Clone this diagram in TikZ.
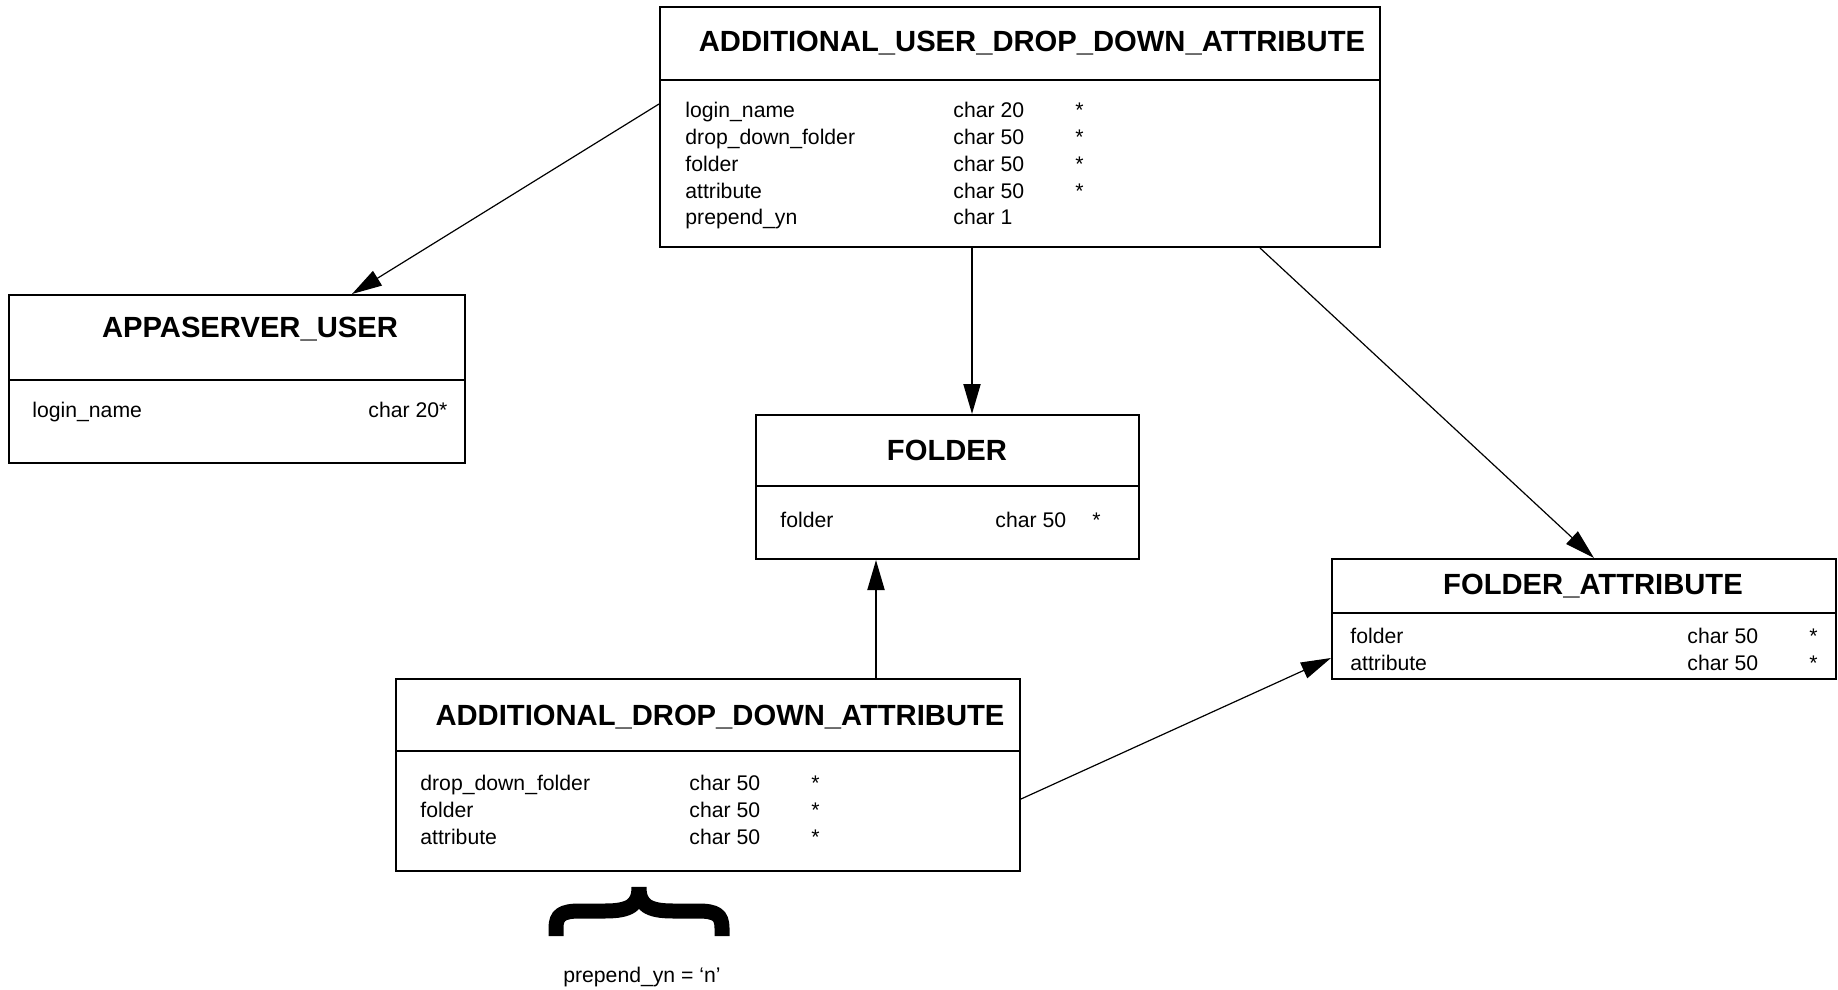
\documentclass[tikz,border=0pt]{standalone}
\usepackage{fontspec}
\setmainfont{Liberation Sans}
\usetikzlibrary{arrows.meta}

\tikzset{
  entity/.style={draw, line width=1pt, inner sep=0pt},
  ttl/.style={anchor=base, inner sep=0pt, font=\fontsize{14.6}{17}\selectfont\bfseries},
  fld/.style={anchor=base west, inner sep=0pt, font=\fontsize{10.6}{13}\selectfont},
  arr/.style={-{Triangle[length=15pt,width=8.5pt]}, line width=0.6pt},
}

\begin{document}
\begin{tikzpicture}[x=0.5pt,y=0.5pt,yscale=-1,xscale=1]
\useasboundingbox (0,0) rectangle (1838,990);
%Shape: Rectangle [ADDITIONAL_USER_DROP_DOWN_ATTRIBUTE]
\node [entity, minimum width=360pt, minimum height=120pt] (audda) at (1020,127) {};
\draw [line width=1pt] (660,80) -- (1380,80) ;
%Shape: Rectangle [APPASERVER_USER]
\node [entity, minimum width=228pt, minimum height=84pt] (appuser) at (237,379) {};
\draw [line width=1pt] (9,380) -- (465,380) ;
%Shape: Rectangle [FOLDER]
\node [entity, minimum width=191.5pt, minimum height=72pt] (folder) at (947.5,487) {};
\draw [line width=1pt] (756,486) -- (1139,486) ;
%Shape: Rectangle [FOLDER_ATTRIBUTE]
\node [entity, minimum width=252pt, minimum height=60pt] (fattr) at (1584,619) {};
\draw [line width=1pt] (1332,613) -- (1836,613) ;
%Shape: Rectangle [ADDITIONAL_DROP_DOWN_ATTRIBUTE]
\node [entity, minimum width=312pt, minimum height=96pt] (adda) at (708,775) {};
\draw [line width=1pt] (396,751) -- (1020,751) ;

%Straight Lines
\draw [arr] ([yshift=-11.5pt]audda.west) -- ([xshift=57.5pt]appuser.north) ;
%Straight Lines
\draw [arr, line width=1pt] ([xshift=-24pt]audda.south) -- ([xshift=12.25pt]folder.north) ;
%Straight Lines
\draw [arr] ([xshift=120pt]audda.south) -- ([xshift=5pt]fattr.north) ;
%Straight Lines
\draw [arr, line width=1pt] ([xshift=84pt]adda.north) -- ([xshift=-35.75pt]folder.south) ;
%Straight Lines
\draw [arr] ([yshift=12pt]adda.east) -- ([yshift=19.5pt]fattr.west) ;

% Text Node
\draw (1032,52) node [ttl] (audda-title) {ADDITIONAL\_USER\_DROP\_DOWN\_ATTRIBUTE};
% Text Node
\draw (685,118) node [fld] (audda-n1) {login\_name};
\draw (685,144.7) node [fld] (audda-n2) {drop\_down\_folder};
\draw (685,171.4) node [fld] (audda-n3) {folder};
\draw (685,198.1) node [fld] (audda-n4) {attribute};
\draw (685,224.8) node [fld] (audda-n5) {prepend\_yn};
% Text Node
\draw (953,118) node [fld] (audda-t1) {char 20};
\draw (953,144.7) node [fld] (audda-t2) {char 50};
\draw (953,171.4) node [fld] (audda-t3) {char 50};
\draw (953,198.1) node [fld] (audda-t4) {char 50};
\draw (953,224.8) node [fld] (audda-t5) {char 1};
% Text Node
\draw (1075,118) node [fld] (audda-k1) {*};
\draw (1075,144.7) node [fld] (audda-k2) {*};
\draw (1075,171.4) node [fld] (audda-k3) {*};
\draw (1075,198.1) node [fld] (audda-k4) {*};

% Text Node
\draw (250,337) node [ttl] (appuser-title) {APPASERVER\_USER};
% Text Node
\draw (32,417) node [fld] (appuser-n1) {login\_name};
\draw (368,417) node [fld] (appuser-t1) {char 20*};

% Text Node
\draw (947,460) node [ttl] (folder-title) {FOLDER};
% Text Node
\draw (780,527) node [fld] (folder-n1) {folder};
\draw (995,527) node [fld] (folder-t1) {char 50};
\draw (1092,527) node [fld] (folder-k1) {*};

% Text Node
\draw (1593,594) node [ttl] (fattr-title) {FOLDER\_ATTRIBUTE};
% Text Node
\draw (1350,643) node [fld] (fattr-n1) {folder};
\draw (1350,670) node [fld] (fattr-n2) {attribute};
\draw (1687,643) node [fld] (fattr-t1) {char 50};
\draw (1687,670) node [fld] (fattr-t2) {char 50};
\draw (1809,643) node [fld] (fattr-k1) {*};
\draw (1809,670) node [fld] (fattr-k2) {*};

% Text Node
\draw (720,725) node [ttl] (adda-title) {ADDITIONAL\_DROP\_DOWN\_ATTRIBUTE};
% Text Node
\draw (420,790) node [fld] (adda-n1) {drop\_down\_folder};
\draw (420,817) node [fld] (adda-n2) {folder};
\draw (420,844) node [fld] (adda-n3) {attribute};
\draw (689,790) node [fld] (adda-t1) {char 50};
\draw (689,817) node [fld] (adda-t2) {char 50};
\draw (689,844) node [fld] (adda-t3) {char 50};
\draw (811,790) node [fld] (adda-k1) {*};
\draw (811,817) node [fld] (adda-k2) {*};
\draw (811,844) node [fld] (adda-k3) {*};

%Curve Lines [brace]
\draw [line width=7.5pt] (556,936) -- (556,928) .. controls (556,915) and (562,911) .. (580,911) -- (605,911) .. controls (630,911) and (639,905) .. (639,887)
  (722,936) -- (722,928) .. controls (722,915) and (716,911) .. (698,911) -- (673,911) .. controls (648,911) and (639,905) .. (639,887) ;
% Text Node
\draw (642,982) node [fld, anchor=base] (prepend-note) {prepend\_yn = ‘n’};
\end{tikzpicture}
\end{document}
